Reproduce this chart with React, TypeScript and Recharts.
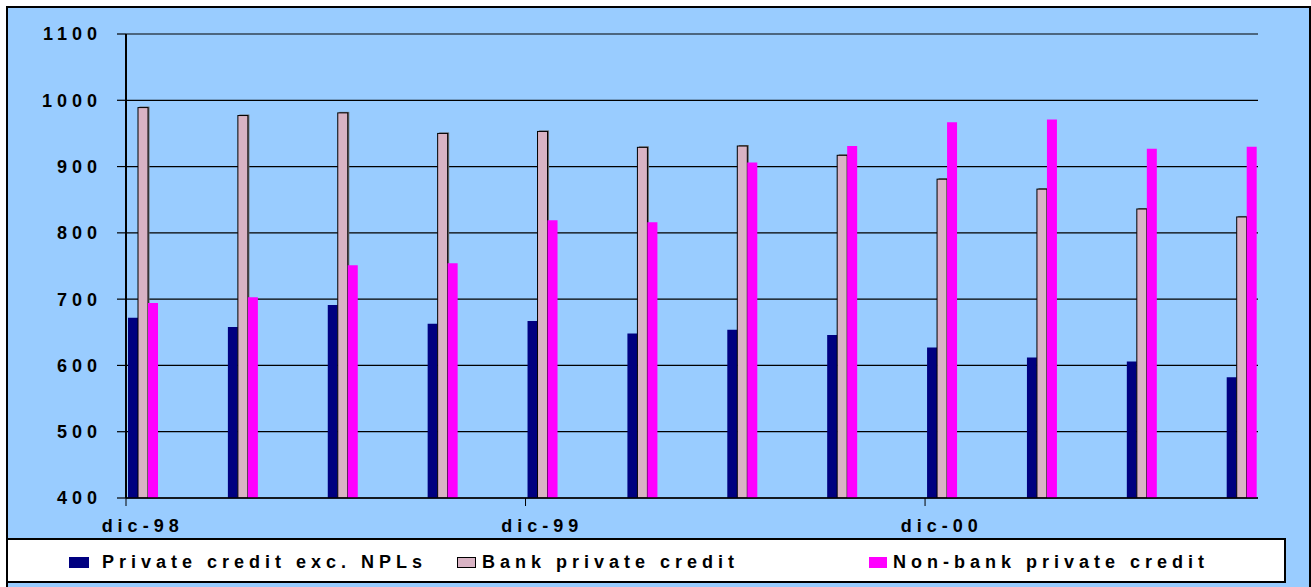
import { Bar, BarChart, CartesianGrid, Legend, XAxis, YAxis } from "recharts";

const MONTHS = ["ene", "feb", "mar", "abr", "may", "jun", "jul", "ago", "sep", "oct", "nov", "dic"];

const QUARTERS = [
  "dic-98", "mar-99", "jun-99", "sep-99", "dic-99", "mar-00",
  "jun-00", "sep-00", "dic-00", "mar-01", "jun-01", "sep-01",
];

const PRIVATE_EXC_NPL = [672, 658, 691, 663, 667, 648, 654, 646, 627, 612, 606, 582];
const BANK_PRIVATE = [989, 977, 981, 950, 953, 929, 931, 917, 881, 866, 836, 824];
const NON_BANK_PRIVATE = [694, 703, 751, 754, 819, 816, 906, 931, 967, 971, 927, 930];

const Y_TICKS = [400, 500, 600, 700, 800, 900, 1000, 1100];

const SERIES_NAMES = ["Private credit exc. NPLs", "Bank private credit", "Non-bank private credit"];

const NAVY = "#000080";
const MAUVE = "#D9B3C4";
const MAGENTA = "#FF00FF";
const BG = "#99CCFF";

const CHART_W = 1311;
const CHART_H = 587;
const PLOT_LEFT = 126;
const PLOT_RIGHT = 1258;

// date axis in months, dic-98 .. sep-01, one slot per month
const AXIS_MONTHS: string[] = [];
for (let i = 0; i < 34; i++) {
  const m = (11 + i) % 12;
  const y = (98 + Math.floor((11 + i) / 12)) % 100;
  AXIS_MONTHS.push(`${MONTHS[m]}-${String(y).padStart(2, "0")}`);
}

const SLOT_W = (PLOT_RIGHT - PLOT_LEFT) / AXIS_MONTHS.length;

const data = AXIS_MONTHS.map((month) => {
  const q = QUARTERS.indexOf(month);
  return {
    month,
    npl: q >= 0 ? PRIVATE_EXC_NPL[q] : null,
    bank: q >= 0 ? BANK_PRIVATE[q] : null,
    nonbank: q >= 0 ? NON_BANK_PRIVATE[q] : null,
  };
});

const LABEL_STYLE = {
  fontFamily: "'Liberation Sans', Arial, sans-serif",
  fontWeight: 700,
  fontSize: 18,
  letterSpacing: 5,
  fill: "#000",
};

function MonthTick(props: any) {
  const { x, y, payload } = props;
  const edge = x - SLOT_W / 2;
  return (
    <g>
      <line x1={edge} x2={edge} y1={y} y2={y + 8} stroke="#000" strokeWidth={1} />
      <text x={x} y={y + 34} textAnchor="middle" style={LABEL_STYLE}>
        {payload.value}
      </text>
    </g>
  );
}

// mauve bars have a thin grey drop shadow in the original
function ShadowBar(props: any) {
  const { x, y, width, height } = props;
  if (!height || height <= 0) return null;
  return (
    <g>
      <rect x={x + 1.5} y={y - 1} width={width} height={height + 1} fill="#6b6b6b" />
      <rect x={x} y={y} width={width} height={height} fill={MAUVE} stroke="#000" strokeWidth={1} />
    </g>
  );
}

const legendText = {
  position: "absolute" as const,
  top: 13,
  fontFamily: "'Liberation Sans', Arial, sans-serif",
  fontWeight: 700,
  fontSize: 18,
  lineHeight: "18px",
  letterSpacing: 5,
  color: "#000",
  whiteSpace: "nowrap" as const,
};

function LegendBox() {
  const swatch = (left: number, width: number, color: string, border?: boolean) => (
    <div
      style={{
        position: "absolute",
        left,
        top: 17,
        width,
        height: 11,
        background: color,
        border: border ? "1px solid #000" : undefined,
        boxSizing: "border-box",
      }}
    />
  );
  return (
    <div
      style={{
        position: "relative",
        width: 1280,
        height: 45,
        background: "#fff",
        border: "2px solid #000",
        boxSizing: "border-box",
      }}
    >
      {swatch(61, 20, NAVY)}
      <span style={{ ...legendText, left: 94 }}>{SERIES_NAMES[0]}</span>
      {swatch(449, 19, MAUVE, true)}
      <span style={{ ...legendText, left: 474 }}>{SERIES_NAMES[1]}</span>
      {swatch(861, 18, MAGENTA)}
      <span style={{ ...legendText, left: 885 }}>{SERIES_NAMES[2]}</span>
    </div>
  );
}

export default function App() {
  return (
    <div
      style={{
        position: "absolute",
        left: 0,
        top: 0,
        width: CHART_W,
        height: CHART_H,
        background: "#fff",
        overflow: "hidden",
      }}
    >
      <div
        style={{
          position: "absolute",
          left: 6,
          top: 6,
          width: 1305,
          height: 620,
          background: BG,
          border: "2px solid #000",
          boxSizing: "border-box",
        }}
      />
      <div style={{ position: "absolute", left: 0, top: 0 }}>
        <BarChart
          width={CHART_W}
          height={CHART_H}
          data={data}
          margin={{ top: 34, right: CHART_W - PLOT_RIGHT, left: 0, bottom: 4 }}
          barGap={2}
          barCategoryGap={0}
        >
          <CartesianGrid vertical={false} stroke="#000" strokeWidth={1.2} />
          <XAxis
            dataKey="month"
            interval={11}
            tickSize={0}
            tickMargin={0}
            tickLine={false}
            axisLine={{ stroke: "#000", strokeWidth: 1.5 }}
            height={40}
            tick={<MonthTick />}
          />
          <YAxis
            width={PLOT_LEFT}
            domain={[400, 1100]}
            ticks={Y_TICKS}
            interval={0}
            allowDataOverflow
            tickSize={9}
            tickMargin={15}
            tickLine={{ stroke: "#000", strokeWidth: 1.2 }}
            axisLine={{ stroke: "#000", strokeWidth: 2 }}
            tick={LABEL_STYLE}
          />
          <YAxis
            yAxisId="frame"
            orientation="right"
            width={0}
            domain={[400, 1100]}
            tick={false}
            tickLine={false}
            axisLine={{ stroke: "#000", strokeWidth: 1.5 }}
          />
          <Legend
            content={() => <LegendBox />}
            wrapperStyle={{ left: 6, top: 538, width: 1280, height: 45 }}
          />
          <Bar dataKey="npl" name={SERIES_NAMES[0]} fill={NAVY} barSize={10} isAnimationActive={false} />
          <Bar
            dataKey="bank"
            name={SERIES_NAMES[1]}
            fill={MAUVE}
            stroke="#000"
            strokeWidth={1}
            barSize={10}
            shape={<ShadowBar />}
            isAnimationActive={false}
          />
          <Bar dataKey="nonbank" name={SERIES_NAMES[2]} fill={MAGENTA} barSize={10} isAnimationActive={false} />
        </BarChart>
      </div>
    </div>
  );
}
